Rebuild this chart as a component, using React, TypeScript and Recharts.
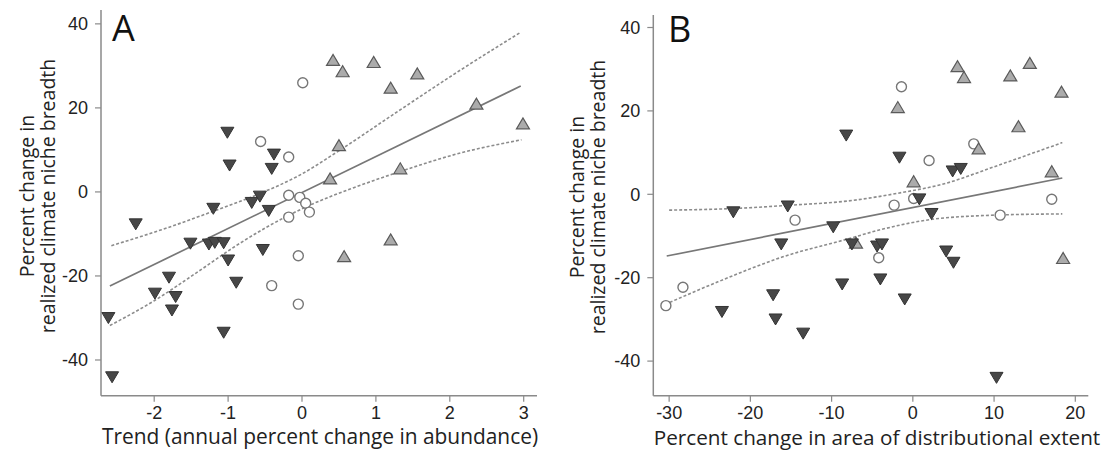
import { ScatterChart, Scatter, XAxis, YAxis } from 'recharts'

// Panel A: trend in abundance vs change in niche breadth
const trendDown = [
  { x: -1.01, y: 14.2 }, { x: -0.98, y: 6.4 }, { x: -0.38, y: 9.0 }, { x: -0.41, y: 5.6 },
  { x: -1.2, y: -3.9 }, { x: -0.68, y: -2.5 }, { x: -0.57, y: -1.0 }, { x: -0.45, y: -4.4 },
  { x: -2.25, y: -7.6 }, { x: -1.51, y: -12.2 }, { x: -1.26, y: -12.4 }, { x: -1.18, y: -12.0 },
  { x: -1.06, y: -12.1 }, { x: -0.53, y: -13.7 }, { x: -1.0, y: -16.2 }, { x: -1.8, y: -20.3 },
  { x: -0.89, y: -21.5 }, { x: -1.99, y: -24.1 }, { x: -1.71, y: -24.9 }, { x: -1.76, y: -28.1 },
  { x: -2.62, y: -29.9 }, { x: -1.06, y: -33.4 }, { x: -2.57, y: -44.0 },
]
const trendCircle = [
  { x: -0.56, y: 12.0 }, { x: -0.18, y: 8.3 }, { x: 0.01, y: 26.0 }, { x: -0.18, y: -0.8 },
  { x: -0.03, y: -1.3 }, { x: 0.05, y: -2.7 }, { x: 0.1, y: -4.8 }, { x: -0.18, y: -6.0 },
  { x: -0.41, y: -22.3 }, { x: -0.05, y: -15.2 }, { x: -0.05, y: -26.7 },
]
const trendUp = [
  { x: 0.42, y: 31.3 }, { x: 0.55, y: 28.6 }, { x: 0.97, y: 30.8 }, { x: 1.56, y: 28.1 },
  { x: 1.2, y: 24.7 }, { x: 2.36, y: 20.9 }, { x: 2.99, y: 16.2 }, { x: 0.5, y: 11.0 },
  { x: 0.38, y: 3.1 }, { x: 1.33, y: 5.5 }, { x: 0.57, y: -15.4 }, { x: 1.2, y: -11.4 },
]
const trendFit = [{ x: -2.6, y: -22.4 }, { x: 2.96, y: 25.2 }]
const trendUpper = [
  { x: -2.58, y: -12.8 }, { x: -1.9, y: -9.0 }, { x: -1.2, y: -4.6 }, { x: -0.6, y: -0.6 },
  { x: -0.03, y: 4.0 }, { x: 0.5, y: 9.8 }, { x: 1.3, y: 19.2 }, { x: 2.1, y: 28.5 }, { x: 2.95, y: 37.9 },
]
const trendLower = [
  { x: -2.6, y: -31.8 }, { x: -2.0, y: -25.9 }, { x: -1.4, y: -18.9 }, { x: -0.9, y: -12.9 },
  { x: -0.45, y: -8.1 }, { x: 0.1, y: -3.2 }, { x: 0.7, y: 1.0 }, { x: 1.32, y: 4.8 },
  { x: 2.13, y: 9.2 }, { x: 2.97, y: 12.4 },
]

// Panel B: change in area of extent vs change in niche breadth
const areaDown = [
  { x: -22.1, y: -4.2 }, { x: -15.4, y: -2.8 }, { x: -9.8, y: -7.8 }, { x: -8.2, y: 14.2 },
  { x: -1.65, y: 8.9 }, { x: 4.9, y: 5.6 }, { x: 5.9, y: 6.2 }, { x: 0.8, y: -1.1 },
  { x: 2.3, y: -4.6 }, { x: -16.2, y: -11.9 }, { x: -17.2, y: -24.1 }, { x: -23.5, y: -28.1 },
  { x: -16.9, y: -29.9 }, { x: -13.5, y: -33.3 }, { x: -8.7, y: -21.5 }, { x: -7.5, y: -11.9 },
  { x: -4.4, y: -12.4 }, { x: -3.8, y: -11.9 }, { x: -4.0, y: -20.3 }, { x: -1.0, y: -25.1 },
  { x: 4.1, y: -13.6 }, { x: 5.0, y: -16.3 }, { x: 10.3, y: -43.9 },
]
const areaCircle = [
  { x: -14.5, y: -6.2 }, { x: -1.4, y: 25.8 }, { x: 7.5, y: 12.1 }, { x: 2.0, y: 8.1 },
  { x: 0.1, y: -1.0 }, { x: -2.3, y: -2.6 }, { x: 17.1, y: -1.2 }, { x: 10.75, y: -5.0 },
  { x: -30.4, y: -26.7 }, { x: -28.3, y: -22.3 }, { x: -4.2, y: -15.2 },
]
const areaUp = [
  { x: -7.0, y: -11.7 }, { x: 5.5, y: 30.6 }, { x: 6.3, y: 28.0 }, { x: 14.4, y: 31.4 },
  { x: 12.0, y: 28.4 }, { x: 18.3, y: 24.5 }, { x: -1.85, y: 20.8 }, { x: 13.0, y: 16.2 },
  { x: 8.1, y: 10.9 }, { x: 0.1, y: 3.0 }, { x: 17.1, y: 5.4 }, { x: 18.5, y: -15.4 },
]
const areaFit = [{ x: -30.3, y: -14.8 }, { x: 18.4, y: 3.9 }]
const areaUpper = [
  { x: -30, y: -3.8 }, { x: -22, y: -3.4 }, { x: -15, y: -2.6 }, { x: -8, y: -1.6 },
  { x: -2, y: 0.2 }, { x: 4, y: 2.6 }, { x: 10, y: 6.6 }, { x: 18.4, y: 12.4 },
]
const areaLower = [
  { x: -30.5, y: -26.4 }, { x: -24, y: -21.0 }, { x: -16, y: -15.0 }, { x: -8, y: -10.7 },
  { x: -4, y: -8.5 }, { x: 2, y: -6.1 }, { x: 10, y: -5.0 }, { x: 18.4, y: -4.7 },
]

const trendTicks = [-2, -1, 0, 1, 2, 3]
const areaTicks = [-30, -20, -10, 0, 10, 20]
const yTicks = [-40, -20, 0, 20, 40]

const axisGrey = '#8a8a8a'
const tickFont = { fontSize: 18, fill: '#222', fontFamily: 'Liberation Sans, Arial, sans-serif' }
const labelFont = 'Open Sans, sans-serif'

const DownTri = (p: any) => (
  <path d={`M${p.cx - 6.5},${p.cy - 5} L${p.cx + 6.5},${p.cy - 5} L${p.cx},${p.cy + 6} Z`} fill="#474747" stroke="#333" strokeWidth={1} />
)
const UpTri = (p: any) => (
  <path d={`M${p.cx - 6.5},${p.cy + 5} L${p.cx + 6.5},${p.cy + 5} L${p.cx},${p.cy - 6} Z`} fill="#ababab" stroke="#5a5a5a" strokeWidth={1.2} />
)
const OpenCircle = (p: any) => <circle cx={p.cx} cy={p.cy} r={5} fill="#fff" stroke="#777" strokeWidth={1.4} />
const NoDot = () => <g />

function Panel(props: {
  left: number; width: number; mLeft: number; mRight: number; mTop: number
  xDomain: [number, number]; xTicks: number[]; yDomain: [number, number]
  down: any[]; circle: any[]; up: any[]; fit: any[]; upper: any[]; lower: any[]
}) {
  const dashed = { stroke: '#8c8c8c', strokeWidth: 1.6, strokeDasharray: '3 2' }
  return (
    <div style={{ position: 'absolute', left: props.left, top: 0 }}>
      <ScatterChart width={props.width} height={454} margin={{ left: props.mLeft, right: props.mRight, top: props.mTop, bottom: 28.3 }}>
        <XAxis type="number" dataKey="x" domain={props.xDomain} ticks={props.xTicks} allowDataOverflow height={30}
          axisLine={{ stroke: axisGrey, strokeWidth: 1.5 }} tickLine={{ stroke: axisGrey, strokeWidth: 1.2 }}
          tickSize={6} tickMargin={5} tick={tickFont} />
        <YAxis type="number" dataKey="y" domain={props.yDomain} ticks={yTicks} allowDataOverflow width={50}
          axisLine={{ stroke: axisGrey, strokeWidth: 1.5 }} tickLine={{ stroke: axisGrey, strokeWidth: 1.2 }}
          tickSize={6} tickMargin={7} tick={tickFont} />
        <Scatter data={props.upper} shape={NoDot} line={dashed} lineJointType="monotoneX" isAnimationActive={false} />
        <Scatter data={props.lower} shape={NoDot} line={dashed} lineJointType="monotoneX" isAnimationActive={false} />
        <Scatter data={props.fit} shape={NoDot} line={{ stroke: '#777', strokeWidth: 1.7 }} isAnimationActive={false} />
        <Scatter data={props.circle} shape={OpenCircle} isAnimationActive={false} />
        <Scatter data={props.up} shape={UpTri} isAnimationActive={false} />
        <Scatter data={props.down} shape={DownTri} isAnimationActive={false} />
      </ScatterChart>
    </div>
  )
}

const textStyle: any = { position: 'absolute', whiteSpace: 'nowrap', fontFamily: labelFont, color: '#222', lineHeight: 1.2 }

function YLabel({ cx, cy }: { cx: number; cy: number }) {
  return (
    <>
      <div style={{ ...textStyle, left: cx - 10.5, top: cy, fontSize: 19.5, transform: 'translate(-50%,-50%) rotate(-90deg)' }}>Percent change in</div>
      <div style={{ ...textStyle, left: cx + 10.5, top: cy, fontSize: 19.5, transform: 'translate(-50%,-50%) rotate(-90deg)' }}>realized climate niche breadth</div>
    </>
  )
}

export default function App() {
  return (
    <div style={{ position: 'absolute', left: 0, top: 0, width: 1107, height: 454, background: '#fff', overflow: 'hidden' }}>
      <Panel left={0} width={550} mLeft={51} mRight={13} mTop={10}
        xDomain={[-2.72, 3.18]} xTicks={trendTicks} yDomain={[-48.5, 43.3]}
        down={trendDown} circle={trendCircle} up={trendUp} fit={trendFit} upper={trendUpper} lower={trendLower} />
      <Panel left={550} width={557} mLeft={53.3} mRight={18.7} mTop={15}
        xDomain={[-31.95, 21.6]} xTicks={areaTicks} yDomain={[-48.3, 43]}
        down={areaDown} circle={areaCircle} up={areaUp} fit={areaFit} upper={areaUpper} lower={areaLower} />
      <YLabel cx={37} cy={196} />
      <YLabel cx={587} cy={197} />
      <div style={{ ...textStyle, left: 320, top: 437, fontSize: 20.9, transform: 'translate(-50%,-50%)' }}>Trend (annual percent change in abundance)</div>
      <div style={{ ...textStyle, left: 877, top: 437, fontSize: 20.7, transform: 'translate(-50%,-50%)' }}>Percent change in area of distributional extent</div>
      <div style={{ ...textStyle, left: 112, top: 6, fontSize: 36, lineHeight: '44px', color: '#111' }}>A</div>
      <div style={{ ...textStyle, left: 668, top: 7, fontSize: 36, lineHeight: '44px', color: '#111' }}>B</div>
    </div>
  )
}
